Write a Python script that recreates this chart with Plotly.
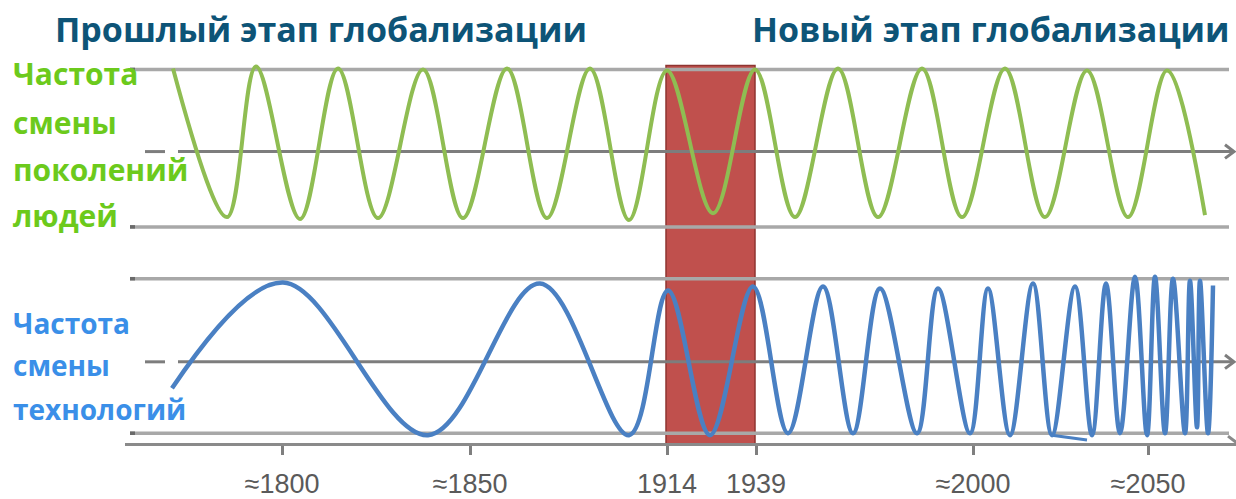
import plotly.graph_objects as go

# ---------------- data ----------------
# x axis: schematic time axis (tick marks and their labels)
tick_pos = [282, 470, 667, 756, 973, 1148]
tick_labels = ["≈1800", "≈1850", "1914", "1939", "≈2000", "≈2050"]

# crisis period between the 1914 and 1939 marks
crisis_from = 666
crisis_to = 755

# generations wave: turning points (time position, level)
gen_x = [173, 227, 256, 300, 338, 378, 423, 463, 507, 547, 590, 629, 667,
         713, 755, 795, 838, 878, 922, 962, 1005, 1045, 1087, 1128, 1167, 1205]
gen_y = [70, 222, 68, 224, 70, 223, 71, 223, 70, 223, 70, 225, 72,
         218, 71, 222, 70, 222, 70, 222, 70, 222, 72, 222, 72, 220]

# technologies wave: turning points (time position, level)
tech_x = [172, 283, 428, 540, 629, 668, 710, 753, 788, 823, 853, 880, 917,
          938, 970, 988, 1010, 1033, 1052, 1075, 1092, 1106, 1120, 1135,
          1147, 1155, 1165, 1173, 1185, 1190, 1197, 1200, 1208, 1213]
tech_y = [397, 289, 445, 290, 445, 297, 445, 293, 443, 293, 443, 295, 443,
          295, 443, 295, 445, 290, 445, 293, 445, 290, 443, 283,
          445, 283, 443, 285, 443, 287, 437, 287, 443, 292]

# stray stroke near the end of the technologies wave
stray_x = [1052, 1087]
stray_y = [445, 450]

# reference levels (top, middle, bottom) of the two bands
gen_levels = [71, 155, 232]
tech_levels = [285, 370, 443]

# text
title_left = "Прошлый этап глобализации"
title_right = "Новый этап глобализации"
green_lines = ["Частота", "смены", "поколений", "людей"]
blue_lines = ["Частота", "смены", "технологий"]

# ---------------- figure ----------------
X0, X1 = 125, 1236
Y_TOP, Y_BOT = 0, 453


def px(x):
    return (x - X0) / (X1 - X0)


def py(y):
    return (Y_BOT - y) / (Y_BOT - Y_TOP)


fig = go.Figure()

GREEN = "#8fbd52"
BLUE = "#4a80c3"
GREY = "#a8a8a8"
GREY_MID = "#7d7d7d"

shapes = []
shapes.append(dict(type="rect", xref="x", yref="y", x0=crisis_from, x1=crisis_to,
                   y0=67, y1=455, fillcolor="#c0504d",
                   line=dict(color="#8e3431", width=1.5), layer="below"))

for levels in (gen_levels, tech_levels):
    top, mid, bot = levels
    for lv in (top, bot):
        shapes.append(dict(type="line", xref="x", yref="y", x0=130, x1=1229,
                           y0=lv, y1=lv, line=dict(color=GREY, width=3.5), layer="below"))
        shapes.append(dict(type="line", xref="x", yref="y", x0=130, x1=135,
                           y0=lv, y1=lv, line=dict(color="#6a6a6a", width=3.5), layer="below"))
    shapes.append(dict(type="line", xref="x", yref="y", x0=145, x1=165, y0=mid, y1=mid,
                       line=dict(color=GREY_MID, width=3), layer="below"))
    shapes.append(dict(type="line", xref="x", yref="y", x0=178, x1=1233, y0=mid, y1=mid,
                       line=dict(color=GREY_MID, width=3), layer="below"))
    shapes.append(dict(type="path", xref="x", yref="y",
                       path=f"M 1225 {mid-7} L 1234 {mid} L 1225 {mid+7}",
                       line=dict(color=GREY_MID, width=3), layer="below"))

shapes.append(dict(type="path", xref="x", yref="y",
                   path="M 1228 446 L 1237 453 L 1228 460",
                   line=dict(color="#8a8a8a", width=3), layer="above"))

fig.add_trace(go.Scatter(x=gen_x, y=gen_y, mode="lines",
                         line=dict(color=GREEN, width=4, shape="spline", smoothing=1.0),
                         hoverinfo="skip", showlegend=False))
fig.add_trace(go.Scatter(x=tech_x, y=tech_y, mode="lines",
                         line=dict(color=BLUE, width=4.5, shape="spline", smoothing=1.0),
                         hoverinfo="skip", showlegend=False))
fig.add_trace(go.Scatter(x=stray_x, y=stray_y, mode="lines",
                         line=dict(color=BLUE, width=3),
                         hoverinfo="skip", showlegend=False))

TITLE_C = "#0d5477"
LGREEN = "#6cca1c"
LBLUE = "#3a8fe8"

ann = []
for t, cx in ((title_left, 321), (title_right, 991)):
    ann.append(dict(x=px(cx), y=py(30), xref="paper", yref="paper", text=f"<b>{t}</b>",
                    showarrow=False, xanchor="center", yanchor="middle",
                    font=dict(family="Open Sans", size=34, color=TITLE_C)))

for t, yy in zip(green_lines, [75, 125, 173, 220]):
    ann.append(dict(x=px(11), y=py(yy), xref="paper", yref="paper", text=f"<b>{t}</b>",
                    showarrow=False, xanchor="left", yanchor="middle",
                    font=dict(family="Open Sans", size=30, color=LGREEN)))

for t, yy in zip(blue_lines, [330, 373, 418]):
    ann.append(dict(x=px(11), y=py(yy), xref="paper", yref="paper", text=f"<b>{t}</b>",
                    showarrow=False, xanchor="left", yanchor="middle",
                    font=dict(family="Open Sans", size=28, color=LBLUE)))

fig.update_layout(
    width=1236, height=499, autosize=False,
    margin=dict(l=X0, r=0, t=0, b=46),
    paper_bgcolor="white", plot_bgcolor="white",
    shapes=shapes, annotations=ann,
    xaxis=dict(range=[X0, X1], showgrid=False, zeroline=False,
               showline=True, linecolor="#8a8a8a", linewidth=3,
               ticks="outside", ticklen=9, tickwidth=3, tickcolor="#7f7f7f",
               tickvals=tick_pos, ticktext=tick_labels, ticklabelstandoff=6,
               tickfont=dict(family="Liberation Sans", size=27, color="#5a5a5a"),
               fixedrange=True),
    yaxis=dict(range=[Y_BOT, Y_TOP], visible=False, fixedrange=True),
)

fig.write_html("out.html", config={"displayModeBar": False},
               post_script="document.body.style.margin='0';document.body.style.overflow='hidden';")
